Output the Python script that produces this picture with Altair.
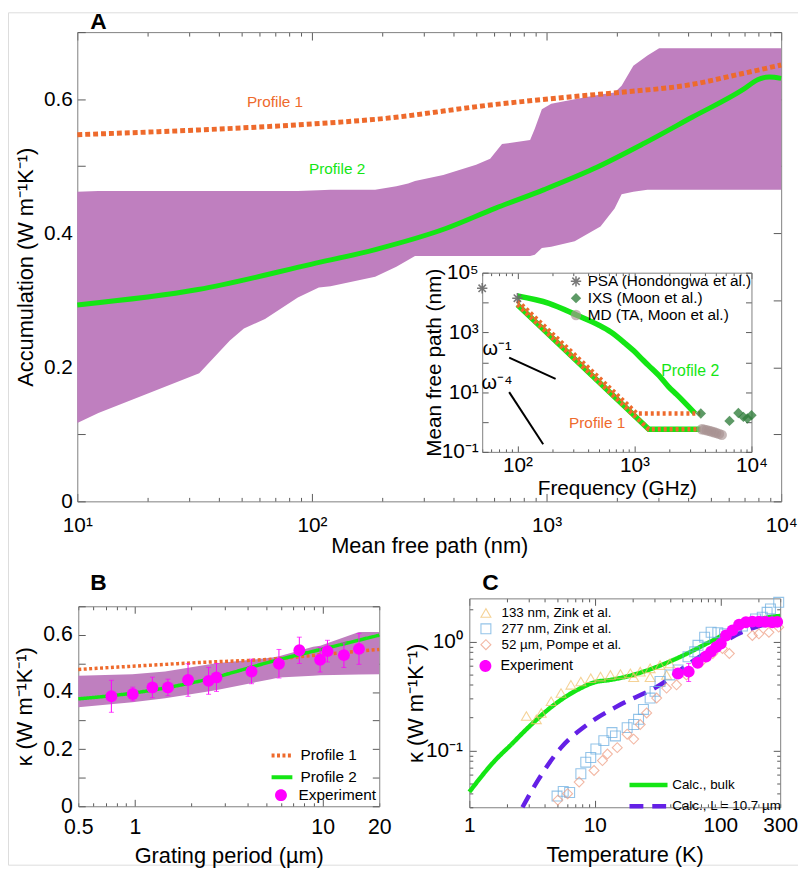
import altair as alt
import pandas as pd

FONT = "Liberation Sans"
W, H = 798, 861
FRAME = "#7f7f7f"
TICKC = "#5a5a5a"
GREEN = "#14E614"
ORANGE = "#EE6A2C"
BAND = "#BF7FBF"
MAGENTA = "#FF00FF"
VIOLET = "#6420E6"

# ================= Panel A : accumulation =================
a_band_mfp = [10, 12.3, 20, 33.1, 44.7, 51.3, 63.1, 87.1, 107, 120, 186, 229, 257, 275, 363,
              501, 575, 646, 851, 891, 955, 1047, 1318, 1698, 1950, 2089, 2344, 2692, 3020, 10000]
a_band_lo = [0.117, 0.132, 0.161, 0.191, 0.240, 0.258, 0.272, 0.304, 0.319, 0.321, 0.335, 0.350, 0.360, 0.366, 0.366,
             0.366, 0.366, 0.366, 0.366, 0.368, 0.378, 0.380, 0.388, 0.410, 0.437, 0.458, 0.462, 0.465, 0.465, 0.465]
a_band_hi = [0.462, 0.463, 0.463, 0.463, 0.463, 0.463, 0.463, 0.463, 0.464, 0.465, 0.465, 0.470, 0.474, 0.478, 0.487,
             0.502, 0.511, 0.533, 0.539, 0.556, 0.585, 0.593, 0.600, 0.607, 0.610, 0.620, 0.650, 0.665, 0.676, 0.676]
a_p1_mfp = [10, 32.7, 100, 188, 600, 1310, 2040, 4170, 6600, 10000]
a_p1_val = [0.547, 0.554, 0.563, 0.570, 0.592, 0.604, 0.610, 0.622, 0.637, 0.651]
a_p2_mfp = [10, 32.7, 100, 188, 372, 603, 977, 1585, 2570, 4170, 6920, 7940, 8900, 10000]
a_p2_val = [0.293, 0.316, 0.354, 0.376, 0.407, 0.437, 0.465, 0.496, 0.533, 0.573, 0.615, 0.629, 0.633, 0.631]
a_lab_text = ["Profile 1", "Profile 2"]
a_lab_x = [69.6, 128]
a_lab_y = [0.596, 0.495]
a_lab_col = [ORANGE, GREEN]

# ================= Inset : mean free path vs frequency =================
i_p2la_f = [100, 186, 323, 496, 628, 843, 986, 1200, 1324, 1675, 1960, 2290, 3300]
i_p2la_m = [16500, 9400, 3760, 1750, 1025, 411, 241, 112, 77, 31, 15, 8.4, 1.92]
i_ta_f = [100, 1325, 3650]
i_ta_m = [8500, 0.57, 0.57]
i_p1la_f = [100, 1050, 3650]
i_p1la_m = [11500, 1.92, 1.92]
i_psa_f = [50, 100]
i_psa_m = [30000, 14000]
i_ixs_f = [3690, 6490, 7730, 8530, 9230, 10000]
i_ixs_m = [1.92, 1.09, 2.01, 1.48, 1.31, 1.69]
i_md_f = [3770, 3950, 4150, 4350, 4550, 4780, 5000, 5280, 5570]
i_md_m = [0.57, 0.555, 0.53, 0.505, 0.48, 0.455, 0.43, 0.40, 0.37]
i_w1_f = [85, 212]
i_w1_m = [144, 27.8]
i_w4_f = [85, 166]
i_w4_m = [10, 0.18]
i_src = ["PSA (Hondongwa et al.)", "IXS (Moon et al.)", "MD (TA, Moon et al.)"]
i_txt = ["ω⁻¹", "ω⁻⁴", "Profile 2", "Profile 1"]
i_txt_f = [67, 67, 3000, 480]
i_txt_m = [280, 20, 52, 0.9]
i_txt_c = ["black", "black", GREEN, ORANGE]
i_txt_s = [20, 20, 16, 15.5]

# ================= Panel B : kappa vs grating period =================
b_band_g = [0.5, 0.97, 1.45, 2.65, 5.3, 5.85, 8.9, 9.7, 15.6, 20]
b_band_hi = [0.457, 0.462, 0.472, 0.500, 0.520, 0.525, 0.558, 0.562, 0.610, 0.610]
b_band_lo = [0.347, 0.364, 0.378, 0.405, 0.445, 0.451, 0.457, 0.459, 0.461, 0.462]
b_p1_g = [0.5, 2.17, 5.9, 11, 20]
b_p1_k = [0.479, 0.503, 0.517, 0.534, 0.549]
b_p2_g = [0.5, 0.97, 2.17, 5.9, 11, 20]
b_p2_k = [0.376, 0.396, 0.437, 0.514, 0.557, 0.599]
b_exp_g = [0.75, 0.975, 1.24, 1.50, 1.92, 2.47, 2.72, 4.18, 5.85, 7.51, 9.69, 10.6, 12.97, 15.6]
b_exp_k = [0.385, 0.393, 0.416, 0.416, 0.442, 0.439, 0.451, 0.472, 0.499, 0.546, 0.513, 0.543, 0.529, 0.551]
b_exp_e = [0.056, 0.024, 0.036, 0.029, 0.057, 0.047, 0.049, 0.043, 0.050, 0.046, 0.043, 0.038, 0.043, 0.054]
b_profiles = ["Profile 1", "Profile 2"]

# ================= Panel C : kappa vs temperature =================
c_bulk_T = [1, 1.6, 2.17, 2.94, 4.77, 7.74, 10, 13.3, 20, 24.4, 44.8, 82, 150, 275, 300]
c_bulk_k = [0.0415, 0.0806, 0.114, 0.162, 0.264, 0.374, 0.424, 0.445, 0.494, 0.53, 0.70, 0.99, 1.41, 1.71, 1.72]
c_film_T = [2.65, 3.52, 5.38, 8.73, 16.0, 33.1, 60, 100, 133, 200, 300]
c_film_k = [0.03, 0.053, 0.106, 0.173, 0.264, 0.40, 0.66, 0.95, 1.15, 1.38, 1.55]
c_calc = ["Calc., bulk", "Calc., L = 10.7 µm"]
c_z133_T = [2.85, 3.42, 3.74, 4.49, 5.38, 6.45, 7.74, 9.28, 11.1, 13.3, 16.0, 19.2, 23.0, 27.6, 33.1, 39.7, 20.4, 27.6, 37.3]
c_z133_k = [0.207, 0.193, 0.221, 0.283, 0.337, 0.401, 0.43, 0.461, 0.477, 0.494, 0.504, 0.512, 0.530, 0.568, 0.609, 0.631, 0.471, 0.471, 0.494]
c_z277_T = [5.0, 5.6, 6.3, 7.74, 8.47, 9.28, 10.2, 11.8, 13.7, 14.6, 18.1, 20.4, 22.3, 24.4, 27.6, 30.2, 33.1, 39.7,
            46.1, 55.3, 62.5, 66.4, 75, 84.5, 95.5, 108, 150, 191, 216, 236, 251, 292]
c_z277_k = [0.038, 0.042, 0.041, 0.061, 0.078, 0.086, 0.103, 0.123, 0.146, 0.136, 0.162, 0.173, 0.193, 0.238, 0.303, 0.349, 0.43, 0.494,
            0.549, 0.726, 0.806, 0.926, 1.10, 1.22, 1.21, 1.18, 1.39, 1.62, 1.68, 1.86, 2.0, 2.30]
c_p52_T = [5.07, 6.07, 7.5, 9.86, 11.5, 12.6, 15.1, 18.1, 20.4, 23, 25.9, 31.1, 37.3, 44.8, 53.7, 70.5, 87.1, 104, 118, 180, 203, 244, 292]
c_p52_k = [0.0349, 0.040, 0.0512, 0.0654, 0.0806, 0.0926, 0.106, 0.141, 0.127, 0.173, 0.221, 0.303, 0.374, 0.401, 0.494, 0.654, 0.778, 0.864, 0.778, 1.14, 1.18, 1.22, 1.36]
c_sets = ["133 nm, Zink et al.", "277 nm, Zink et al.", "52 µm, Pompe et al."]
c_exp_T = [46, 56, 66, 77, 84.5, 92.5, 101, 111, 125, 141, 160, 180, 203, 229, 259, 284]
c_exp_k = [0.51, 0.53, 0.64, 0.73, 0.81, 0.89, 0.96, 1.14, 1.27, 1.43, 1.51, 1.53, 1.53, 1.52, 1.51, 1.52]
c_exp_e = [0.03, 0.10, 0.03, 0.03, 0.03, 0.03, 0.03, 0.03, 0.03, 0.03, 0.03, 0.03, 0.03, 0.03, 0.03, 0.03]

# ================= layout (pixel geometry of panels) =================
def minor_log(lo, hi):
    out = []
    d = 1e-3
    while d <= hi:
        for m in range(1, 10):
            v = round(m * d, 6)
            if lo - 1e-9 <= v <= hi + 1e-9:
                out.append(v)
        d *= 10
    return out

PA = dict(l=70, t=20, r=781, b=494, xt="log", xd=[10, 10000], yt="linear", yd=[0, 0.7],
          xlab={10: "10¹", 100: "10²", 1000: "10³", 10000: "10⁴"},
          ylab={0: "0", 0.2: "0.2", 0.4: "0.4", 0.6: "0.6"},
          xticks=minor_log(10, 10000), yticks=[0, 0.1, 0.2, 0.3, 0.4, 0.5, 0.6, 0.7],
          xtitle="Mean free path (nm)", ytitle="Accumulation (W m⁻¹K⁻¹)",
          lfs=21, tfs=22, xlp=13, xtp=1, ylp=5, ytp=6, maj=8, mnr=4)
PI = dict(l=479, t=263, r=751, b=444, xt="log", xd=[50, 10000], yt="log", yd=[0.1, 100000],
          xlab={100: "10²", 1000: "10³", 10000: "10⁴"},
          ylab={0.1: "10⁻¹", 10: "10¹", 1000: "10³", 100000: "10⁵"},
          xticks=minor_log(50, 10000), yticks=[0.1, 1, 10, 100, 1000, 10000, 100000],
          xtitle="Frequency (GHz)", ytitle="Mean free path (nm)",
          lfs=21, tfs=21, xlp=3, xtp=2, ylp=4, ytp=-3.5, maj=6, mnr=3)
PB = dict(l=71, t=600, r=375, b=802, xt="log", xd=[0.5, 20], yt="linear", yd=[0, 0.7],
          xlab={0.5: "0.5", 1: "1", 10: "10", 20: "20"},
          ylab={0: "0", 0.2: "0.2", 0.4: "0.4", 0.6: "0.6"},
          xticks=minor_log(0.5, 20), yticks=[0, 0.1, 0.2, 0.3, 0.4, 0.5, 0.6, 0.7],
          xtitle="Grating period (µm)", ytitle="κ (W m⁻¹K⁻¹)",
          lfs=21.5, tfs=22, xlp=11, xtp=7, ylp=6, ytp=6, maj=7, mnr=3.5)
PC = dict(l=466, t=592, r=780, b=803, xt="log", xd=[1, 300], yt="log", yd=[0.03, 2.5],
          xlab={1: "1", 10: "10", 100: "100", 300: "300"},
          ylab={0.1: "10⁻¹", 1: "10⁰"},
          xticks=minor_log(1, 300), yticks=minor_log(0.03, 2.5),
          xtitle="Temperature (K)", ytitle="κ (W m⁻¹K⁻¹)",
          lfs=21, tfs=22, xlp=7.5, xtp=9, ylp=7, ytp=-2, maj=7, mnr=3.5)

COND = "abs(log(datum.value)/LN10 - round(log(datum.value)/LN10)) < 0.001"


def tsize(P, which):
    typ = P["xt"] if which == "x" else P["yt"]
    if typ != "log":
        return P["maj"]
    return {"condition": {"test": COND, "value": P["maj"]}, "value": P["mnr"]}


def lab_expr(mapping):
    expr = "''"
    for v, s in reversed(list(mapping.items())):
        expr = f"datum.value == {v} ? '{s}' : ({expr})"
    return expr


def xs(P):
    if P["xt"] == "log":
        return alt.Scale(type="log", domain=P["xd"], range=[P["l"], P["r"]], nice=False)
    return alt.Scale(type="linear", domain=P["xd"], range=[P["l"], P["r"]], nice=False, zero=False)


def ys(P):
    if P["yt"] == "log":
        return alt.Scale(type="log", domain=P["yd"], range=[P["b"], P["t"]], nice=False)
    return alt.Scale(type="linear", domain=P["yd"], range=[P["b"], P["t"]], nice=False, zero=False)


def x_axis(P, kind):
    if kind == "lab":
        return alt.Axis(orient="bottom", offset=P["b"] - H, values=list(P["xlab"].keys()),
                        labelExpr=lab_expr(P["xlab"]), ticks=False, tickSize=0, domain=False, grid=False,
                        title=P["xtitle"], labelFont=FONT, labelFontSize=P["lfs"], labelColor="black",
                        labelPadding=P["xlp"], labelFlush=False, labelOverlap=False,
                        titleFont=FONT, titleFontSize=P["tfs"], titleFontWeight="normal",
                        titleColor="black", titlePadding=P["xtp"])
    common = dict(values=P["xticks"], labels=False, grid=False, title=None, domain=True,
                  domainColor=FRAME, domainWidth=1, tickColor=TICKC, tickWidth=1,
                  tickSize=tsize(P, "x"))
    if kind == "bot":
        return alt.Axis(orient="top", offset=-P["b"], **common)
    return alt.Axis(orient="bottom", offset=P["t"] - H, **common)


def y_axis(P, kind):
    if kind == "lab":
        return alt.Axis(orient="left", offset=-P["l"], values=list(P["ylab"].keys()),
                        labelExpr=lab_expr(P["ylab"]), ticks=False, tickSize=0, domain=False, grid=False,
                        title=P["ytitle"], labelFont=FONT, labelFontSize=P["lfs"], labelColor="black",
                        labelPadding=P["ylp"], labelFlush=False, labelOverlap=False,
                        titleFont=FONT, titleFontSize=P["tfs"], titleFontWeight="normal",
                        titleColor="black", titlePadding=P["ytp"])
    common = dict(values=P["yticks"], labels=False, grid=False, title=None, domain=True,
                  domainColor=FRAME, domainWidth=1, tickColor=TICKC, tickWidth=1,
                  tickSize=tsize(P, "y"))
    if kind == "left":
        return alt.Axis(orient="right", offset=P["l"] - W, **common)
    return alt.Axis(orient="left", offset=-P["r"], **common)


def X(P, f, axis=None):
    return alt.X(f, type="quantitative", scale=xs(P), axis=axis)


def Y(P, f, axis=None):
    return alt.Y(f, type="quantitative", scale=ys(P), axis=axis)


def leg(**kw):
    base = dict(orient="none", title=None, labelFont=FONT, labelColor="black", padding=0, labelLimit=400)
    base.update(kw)
    return alt.Legend(**base)


layers = []

# ---------- Panel A ----------
dfa_band = pd.DataFrame({"mfp": a_band_mfp, "lo": a_band_lo, "hi": a_band_hi})
dfa_p1 = pd.DataFrame({"mfp": a_p1_mfp, "v": a_p1_val})
dfa_p2 = pd.DataFrame({"mfp": a_p2_mfp, "v": a_p2_val})
dfa_lab = pd.DataFrame({"t": a_lab_text, "x": a_lab_x, "y": a_lab_y, "c": a_lab_col})

layers.append(alt.Chart(dfa_band).mark_area(color=BAND, opacity=1).encode(
    x=X(PA, "mfp", x_axis(PA, "lab")), y=Y(PA, "lo", y_axis(PA, "lab")), y2="hi"))
layers.append(alt.Chart(dfa_p1).mark_line(color=ORANGE, strokeWidth=5, strokeDash=[5, 3],
                                          interpolate="monotone").encode(
    x=X(PA, "mfp", x_axis(PA, "bot")), y=Y(PA, "v", y_axis(PA, "left"))))
layers.append(alt.Chart(dfa_p2).mark_line(color=GREEN, strokeWidth=5, interpolate="monotone").encode(
    x=X(PA, "mfp", x_axis(PA, "top")), y=Y(PA, "v", y_axis(PA, "right"))))
layers.append(alt.Chart(dfa_lab).mark_text(font=FONT, fontSize=15.5, align="center", baseline="middle").encode(
    x=X(PA, "x"), y=Y(PA, "y"), text="t:N", color=alt.Color("c:N", scale=None)))

# ---------- Inset ----------
dfi_p2la = pd.DataFrame({"f": i_p2la_f, "m": i_p2la_m})
dfi_ta = pd.DataFrame({"f": i_ta_f, "m": i_ta_m})
dfi_p1 = pd.concat([
    pd.DataFrame({"f": i_p1la_f, "m": i_p1la_m, "br": "LA"}),
    pd.DataFrame({"f": i_ta_f, "m": i_ta_m, "br": "TA"})])
dfi_sl = pd.concat([
    pd.DataFrame({"f": i_w1_f, "m": i_w1_m, "br": "w1"}),
    pd.DataFrame({"f": i_w4_f, "m": i_w4_m, "br": "w4"})])
dfi_pts = pd.concat([
    pd.DataFrame({"f": i_psa_f, "m": i_psa_m, "src": i_src[0]}),
    pd.DataFrame({"f": i_ixs_f, "m": i_ixs_m, "src": i_src[1]}),
    pd.DataFrame({"f": i_md_f, "m": i_md_m, "src": i_src[2]})])
dfi_txt = pd.DataFrame({"t": i_txt, "f": i_txt_f, "m": i_txt_m, "c": i_txt_c, "s": i_txt_s})

ASTER = ("M-1,-0.15L1,-0.15L1,0.15L-1,0.15Z"
         "M-0.15,-1L0.15,-1L0.15,1L-0.15,1Z"
         "M0.601,0.813L-0.813,-0.601L-0.601,-0.813L0.813,0.601Z"
         "M0.813,-0.601L-0.601,0.813L-0.813,0.601L0.601,-0.813Z")

layers.append(alt.Chart(dfi_p2la).mark_line(color=GREEN, strokeWidth=5.5, interpolate="monotone").encode(
    x=X(PI, "f", x_axis(PI, "lab")), y=Y(PI, "m", y_axis(PI, "lab"))))
layers.append(alt.Chart(dfi_ta).mark_line(color=GREEN, strokeWidth=5.5).encode(
    x=X(PI, "f"), y=Y(PI, "m")))
layers.append(alt.Chart(dfi_p1).mark_line(color=ORANGE, strokeWidth=4.5, strokeDash=[3, 3]).encode(
    x=X(PI, "f", x_axis(PI, "bot")), y=Y(PI, "m", y_axis(PI, "left")), detail="br:N"))
layers.append(alt.Chart(dfi_sl).mark_line(color="black", strokeWidth=2).encode(
    x=X(PI, "f", x_axis(PI, "top")), y=Y(PI, "m", y_axis(PI, "right")), detail="br:N"))
ileg = leg(legendX=566, legendY=264, labelFontSize=15.5, labelOffset=4, rowPadding=-1, symbolStrokeWidth=0)
layers.append(alt.Chart(dfi_pts).mark_point(filled=True, strokeWidth=0).encode(
    x=X(PI, "f"), y=Y(PI, "m"),
    color=alt.Color("src:N", scale=alt.Scale(domain=i_src, range=["#6a6a6a", "#2E7D3A", "#A89292"]), legend=ileg),
    shape=alt.Shape("src:N", scale=alt.Scale(domain=i_src, range=[ASTER, "diamond", "circle"]), legend=ileg),
    size=alt.Size("src:N", scale=alt.Scale(domain=i_src, range=[110, 110, 130]), legend=ileg),
    opacity=alt.Opacity("src:N", scale=alt.Scale(domain=i_src, range=[0.9, 0.65, 1.0]), legend=ileg)))
layers.append(alt.Chart(dfi_txt).mark_text(font=FONT, align="center", baseline="middle").encode(
    x=X(PI, "f"), y=Y(PI, "m"), text="t:N", color=alt.Color("c:N", scale=None),
    size=alt.Size("s:Q", scale=None)))

# ---------- Panel B ----------
dfb_band = pd.DataFrame({"g": b_band_g, "lo": b_band_lo, "hi": b_band_hi})
dfb_lines = pd.concat([
    pd.DataFrame({"g": b_p1_g, "k": b_p1_k, "p": b_profiles[0]}),
    pd.DataFrame({"g": b_p2_g, "k": b_p2_k, "p": b_profiles[1]})])
dfb_exp = pd.DataFrame({"g": b_exp_g, "k": b_exp_k, "e": b_exp_e, "kind": "Experiment"})
dfb_exp["lo"] = dfb_exp["k"] - dfb_exp["e"]
dfb_exp["hi"] = dfb_exp["k"] + dfb_exp["e"]
dfb_caps = pd.concat([pd.DataFrame({"g": dfb_exp["g"], "v": dfb_exp["lo"]}),
                      pd.DataFrame({"g": dfb_exp["g"], "v": dfb_exp["hi"]})])

layers.append(alt.Chart(dfb_band).mark_area(color=BAND, opacity=1).encode(
    x=X(PB, "g", x_axis(PB, "lab")), y=Y(PB, "lo", y_axis(PB, "lab")), y2="hi"))
bleg = leg(legendX=269, legendY=743, labelFontSize=15.5, labelOffset=11, rowPadding=4,
           symbolType="M-2.1,0H2.1", symbolSize=100, symbolStrokeWidth=4)
layers.append(alt.Chart(dfb_lines).mark_line(strokeWidth=3.5, interpolate="monotone").encode(
    x=X(PB, "g", x_axis(PB, "bot")), y=Y(PB, "k", y_axis(PB, "left")),
    color=alt.Color("p:N", scale=alt.Scale(domain=b_profiles, range=[ORANGE, GREEN]), legend=bleg),
    strokeDash=alt.StrokeDash("p:N", scale=alt.Scale(domain=b_profiles, range=[[3, 2.5], [1, 0]]), legend=bleg)))
layers.append(alt.Chart(dfb_exp).mark_rule(color=MAGENTA, strokeWidth=1).encode(
    x=X(PB, "g"), y=Y(PB, "lo"), y2="hi"))
layers.append(alt.Chart(dfb_caps).mark_tick(color=MAGENTA, orient="horizontal", size=5, thickness=1).encode(
    x=X(PB, "g"), y=Y(PB, "v")))
EXPSYM = ("M-1,0A1,1,0,1,1,1,0A1,1,0,1,1,-1,0Z"
          "M0,-1.85V1.85M-0.45,-1.85H0.45M-0.45,1.85H0.45")
bleg2 = leg(legendX=268, legendY=783, labelFontSize=15.5, labelOffset=10, symbolType=EXPSYM,
            symbolSize=144, symbolFillColor=MAGENTA, symbolStrokeColor=MAGENTA, symbolStrokeWidth=1)
layers.append(alt.Chart(dfb_exp).mark_point(filled=True, color=MAGENTA, size=144, shape="circle", strokeWidth=0).encode(
    x=X(PB, "g", x_axis(PB, "top")), y=Y(PB, "k", y_axis(PB, "right")),
    opacity=alt.Opacity("kind:N", scale=alt.Scale(domain=["Experiment"], range=[1]), legend=bleg2)))

# ---------- Panel C ----------
dfc_lines = pd.concat([
    pd.DataFrame({"T": c_bulk_T, "k": c_bulk_k, "c": c_calc[0]}),
    pd.DataFrame({"T": c_film_T, "k": c_film_k, "c": c_calc[1]})])
dfc_lit = pd.concat([
    pd.DataFrame({"T": c_z133_T, "k": c_z133_k, "s": c_sets[0]}),
    pd.DataFrame({"T": c_z277_T, "k": c_z277_k, "s": c_sets[1]}),
    pd.DataFrame({"T": c_p52_T, "k": c_p52_k, "s": c_sets[2]})])
dfc_exp = pd.DataFrame({"T": c_exp_T, "k": c_exp_k, "e": c_exp_e, "kind": "Experiment"})
dfc_exp["lo"] = dfc_exp["k"] - dfc_exp["e"]
dfc_exp["hi"] = dfc_exp["k"] + dfc_exp["e"]
dfc_caps = pd.concat([pd.DataFrame({"T": dfc_exp["T"], "v": dfc_exp["lo"]}),
                      pd.DataFrame({"T": dfc_exp["T"], "v": dfc_exp["hi"]})])

cleg = leg(legendX=639.5, legendY=773, labelFontSize=13.5, labelOffset=16.5, rowPadding=2.5,
           symbolType="M-3.84,0H3.84", symbolSize=100, symbolStrokeWidth=4.5)
layers.append(alt.Chart(dfc_lines).mark_line(strokeWidth=4.5, interpolate="monotone").encode(
    x=X(PC, "T", x_axis(PC, "lab")), y=Y(PC, "k", y_axis(PC, "lab")),
    color=alt.Color("c:N", scale=alt.Scale(domain=c_calc, range=[GREEN, VIOLET]), legend=cleg),
    strokeDash=alt.StrokeDash("c:N", scale=alt.Scale(domain=c_calc, range=[[1, 0], [14, 9]]), legend=cleg)))
cleg_lit = leg(legendX=476, legendY=600, labelFontSize=13.5, labelOffset=9, rowPadding=1,
               symbolSize=100, symbolStrokeWidth=1.1)
layers.append(alt.Chart(dfc_lit).mark_point(filled=False, strokeWidth=1.1, size=100).encode(
    x=X(PC, "T", x_axis(PC, "bot")), y=Y(PC, "k", y_axis(PC, "left")),
    color=alt.Color("s:N", scale=alt.Scale(domain=c_sets, range=["#F2C06A", "#68ACE0", "#EE9A7E"]), legend=cleg_lit),
    shape=alt.Shape("s:N", scale=alt.Scale(domain=c_sets, range=["triangle-up", "square", "diamond"]), legend=cleg_lit)))
layers.append(alt.Chart(dfc_exp).mark_rule(color=MAGENTA, strokeWidth=1).encode(
    x=X(PC, "T"), y=Y(PC, "lo"), y2="hi"))
layers.append(alt.Chart(dfc_caps).mark_tick(color=MAGENTA, orient="horizontal", size=5, thickness=1).encode(
    x=X(PC, "T"), y=Y(PC, "v")))
cleg2 = leg(legendX=475, legendY=653, labelFontSize=14.5, labelOffset=8, symbolType=EXPSYM,
            symbolSize=144, symbolFillColor=MAGENTA, symbolStrokeColor=MAGENTA, symbolStrokeWidth=1)
layers.append(alt.Chart(dfc_exp).mark_point(filled=True, color=MAGENTA, size=144, shape="circle", strokeWidth=0).encode(
    x=X(PC, "T", x_axis(PC, "top")), y=Y(PC, "k", y_axis(PC, "right")),
    opacity=alt.Opacity("kind:N", scale=alt.Scale(domain=["Experiment"], range=[1]), legend=cleg2)))

# ---------- panel letters ----------
df_let = pd.DataFrame({"t": ["A", "B", "C"], "px": [83, 83, 479], "py": [17, 584, 584]})
layers.append(alt.Chart(df_let).mark_text(font=FONT, fontSize=23, fontWeight="bold", align="left",
                                          baseline="alphabetic", color="black").encode(
    x=alt.X("px:Q", scale=None, axis=None), y=alt.Y("py:Q", scale=None, axis=None), text="t:N"))

chart = alt.layer(*layers).resolve_scale(
    x="independent", y="independent", color="independent", strokeDash="independent",
    shape="independent", size="independent", opacity="independent"
).resolve_axis(x="independent", y="independent").properties(
    width=W, height=H, padding=0, autosize=alt.AutoSizeParams(type="none")
).configure_view(strokeWidth=0).configure(background="white")

chart.save("out.html", embed_options={"renderer": "svg", "actions": False})
